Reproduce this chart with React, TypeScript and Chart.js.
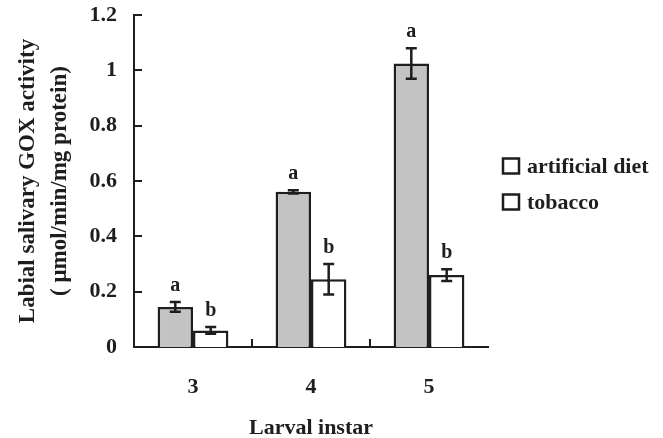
import React, { useEffect, useRef } from 'react';
import { Chart, registerables } from 'chart.js';

Chart.register(...registerables);

const categories = ['3', '4', '5'];
const seriesNames = ['artificial diet', 'tobacco'];
const artificialDiet = [0.145, 0.561, 1.025];
const artificialDietErr = [0.018, 0.006, 0.055];
const tobacco = [0.06, 0.245, 0.26];
const tobaccoErr = [0.012, 0.055, 0.021];
const artificialLetters = ['a', 'a', 'a'];
const tobaccoLetters = ['b', 'b', 'b'];
const yMin = 0;
const yMax = 1.2;
const yStep = 0.2;
const yTitle = ['Labial salivary GOX activity', '( \u03bcmol/min/mg protein)'];
const xTitle = 'Larval instar';

const FONT = "'Liberation Serif', 'Times New Roman', serif";
const INK = '#1e1e1e';
const GRAY = '#c3c3c3';

const errors = [artificialDietErr, tobaccoErr];
const letters = [artificialLetters, tobaccoLetters];

const overlayPlugin = {
  id: 'overlay',
  afterDatasetsDraw(chart: any) {
    const ctx = chart.ctx;
    const yScale = chart.scales.y;
    const xScale = chart.scales.x;
    const area = chart.chartArea;
    ctx.save();
    ctx.strokeStyle = INK;
    ctx.lineWidth = 2;
    // inner y ticks
    for (let v = yMin; v <= yMax + 1e-9; v += yStep) {
      const py = Math.round(yScale.getPixelForValue(v));
      ctx.beginPath();
      ctx.moveTo(area.left, py);
      ctx.lineTo(area.left + 8, py);
      ctx.stroke();
    }
    // inner x ticks between categories
    for (let i = 0; i < categories.length - 1; i++) {
      const px = Math.round((xScale.getPixelForTick(i) + xScale.getPixelForTick(i + 1)) / 2);
      ctx.beginPath();
      ctx.moveTo(px, area.bottom);
      ctx.lineTo(px, area.bottom - 8);
      ctx.stroke();
    }
    // error bars and letters
    chart.data.datasets.forEach((ds: any, di: number) => {
      const meta = chart.getDatasetMeta(di);
      meta.data.forEach((bar: any, i: number) => {
        const v = ds.data[i];
        const e = errors[di][i];
        const x = bar.x;
        const yTop = yScale.getPixelForValue(v + e);
        const yBot = yScale.getPixelForValue(v - e);
        ctx.lineWidth = 2.5;
        ctx.beginPath();
        ctx.moveTo(x, yTop);
        ctx.lineTo(x, yBot);
        ctx.moveTo(x - 5.5, yTop);
        ctx.lineTo(x + 5.5, yTop);
        ctx.moveTo(x - 5.5, yBot);
        ctx.lineTo(x + 5.5, yBot);
        ctx.stroke();
        ctx.fillStyle = INK;
        ctx.font = `bold 20px ${FONT}`;
        ctx.textAlign = 'center';
        ctx.textBaseline = 'alphabetic';
        ctx.fillText(letters[di][i], x, yTop - 11);
      });
    });
    // legend
    const lx = area.right + 15;
    const rows = [166, 202];
    seriesNames.forEach((name, i) => {
      const cy = rows[i];
      ctx.fillStyle = '#ffffff';
      ctx.fillRect(lx, cy - 7.5, 16, 15);
      ctx.lineWidth = 2.5;
      ctx.strokeStyle = INK;
      ctx.strokeRect(lx, cy - 7.5, 16, 15);
      ctx.fillStyle = INK;
      ctx.font = `bold 22px ${FONT}`;
      ctx.textAlign = 'left';
      ctx.textBaseline = 'middle';
      ctx.fillText(name, lx + 24, cy + 1);
    });
    ctx.restore();
  },
};

export default function App() {
  const ref = useRef<HTMLCanvasElement | null>(null);
  useEffect(() => {
    if (!ref.current) return;
    const chart = new Chart(ref.current, {
      type: 'bar',
      data: {
        labels: categories,
        datasets: [
          {
            label: seriesNames[0],
            data: artificialDiet,
            backgroundColor: GRAY,
            borderColor: INK,
            borderWidth: 2.5,
            categoryPercentage: 0.6,
            barPercentage: 1.0,
          },
          {
            label: seriesNames[1],
            data: tobacco,
            backgroundColor: '#ffffff',
            borderColor: INK,
            borderWidth: 2.5,
            categoryPercentage: 0.6,
            barPercentage: 1.0,
          },
        ],
      },
      options: {
        responsive: false,
        animation: false,
        devicePixelRatio: 1,
        layout: { padding: { left: 0, top: 15, right: 175, bottom: 0 } },
        plugins: {
          legend: { display: false },
          tooltip: { enabled: false },
        },
        scales: {
          x: {
            grid: { display: false, drawTicks: false },
            border: { display: true, color: INK, width: 2 },
            ticks: {
              color: INK,
              padding: 27,
              font: { family: FONT, size: 22, weight: 'bold' },
            },
            title: {
              display: true,
              text: xTitle,
              color: INK,
              padding: { top: 0, bottom: 0 },
              font: { family: FONT, size: 22, weight: 'bold', lineHeight: 0.9 },
            },
            afterFit(scale: any) {
              scale.height = 91;
              scale.paddingLeft = 0;
              scale.paddingRight = 0;
            },
          },
          y: {
            min: yMin,
            max: yMax,
            grid: { display: false, drawTicks: false },
            border: { display: true, color: INK, width: 2 },
            ticks: {
              stepSize: yStep,
              color: INK,
              padding: 17,
              font: { family: FONT, size: 22, weight: 'bold' },
              callback: (v: any) => String(Number(Number(v).toFixed(1))),
            },
            title: {
              display: true,
              text: yTitle,
              color: INK,
              padding: { top: 12, bottom: 0 },
              font: { family: FONT, size: 23, weight: 'bold', lineHeight: 1.4 },
            },
            afterFit(scale: any) {
              scale.width = 134;
              scale.paddingTop = 0;
              scale.paddingBottom = 0;
            },
          },
        },
      },
      plugins: [overlayPlugin],
    });
    return () => chart.destroy();
  }, []);
  return (
    <div style={{ position: 'absolute', left: 0, top: 0, width: 663, height: 438, background: '#fff' }}>
      <canvas ref={ref} width={663} height={438} style={{ display: 'block' }} />
    </div>
  );
}
